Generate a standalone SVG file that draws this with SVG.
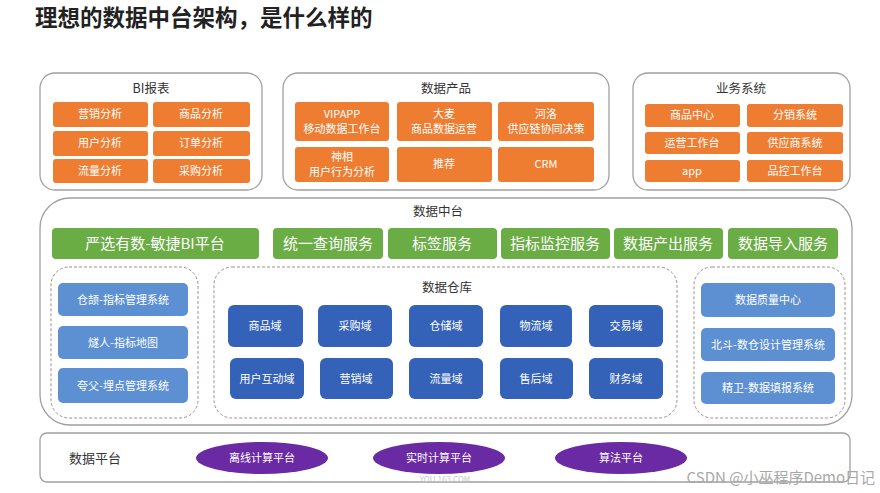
<svg xmlns="http://www.w3.org/2000/svg" width="880" height="493" viewBox="0 0 880 493">
<style>
text{font-family:"Noto Sans CJK SC","Liberation Sans",sans-serif;}
.title{font-size:22.5px;font-weight:bold;fill:#222;}
.panel{fill:#fff;stroke:#a0a0a0;stroke-width:1.3;}
.dash{fill:#fff;stroke:#a09090;stroke-width:1;stroke-dasharray:3 2;}
.ptitle{font-size:12.5px;fill:#333;text-anchor:middle;}
.or{fill:#ee7d31;}
.gr{fill:#6aad45;}
.lb{fill:#5d90d2;}
.db{fill:#3462b8;}
.pu{fill:#6a2aa3;}
.ct{font-size:11px;fill:#fff;text-anchor:middle;}
.gt{font-size:15px;fill:#fff;text-anchor:middle;}
</style>
<rect width="880" height="493" fill="#fff"/>
<text class="title" x="35" y="26">理想的数据中台架构，是什么样的</text>

<g id="bi">
<rect class="panel" x="40" y="73" width="222" height="117" rx="15"/>
<text class="ptitle" x="151" y="93">BI报表</text>
<rect class="or" x="53" y="102" width="95" height="25" rx="3"/><text class="ct" x="100" y="118">营销分析</text>
<rect class="or" x="153" y="102" width="97" height="25" rx="3"/><text class="ct" x="201" y="118">商品分析</text>
<rect class="or" x="53" y="131" width="95" height="25" rx="3"/><text class="ct" x="100" y="147">用户分析</text>
<rect class="or" x="153" y="131" width="97" height="25" rx="3"/><text class="ct" x="201" y="147">订单分析</text>
<rect class="or" x="53" y="159" width="95" height="24" rx="3"/><text class="ct" x="100" y="175">流量分析</text>
<rect class="or" x="153" y="159" width="97" height="24" rx="3"/><text class="ct" x="201" y="175">采购分析</text>
</g>

<g id="product">
<rect class="panel" x="283" y="73" width="326" height="117" rx="15"/>
<text class="ptitle" x="446" y="93">数据产品</text>
<rect class="or" x="295" y="102" width="94" height="39" rx="3"/><text class="ct" x="342" y="118">VIPAPP</text><text class="ct" x="342" y="133">移动数据工作台</text>
<rect class="or" x="397" y="102" width="95" height="39" rx="3"/><text class="ct" x="444" y="118">大麦</text><text class="ct" x="444" y="133">商品数据运营</text>
<rect class="or" x="498" y="102" width="96" height="39" rx="3"/><text class="ct" x="546" y="118">河洛</text><text class="ct" x="546" y="133">供应链协同决策</text>
<rect class="or" x="295" y="147" width="94" height="35" rx="3"/><text class="ct" x="342" y="161">神相</text><text class="ct" x="342" y="176">用户行为分析</text>
<rect class="or" x="397" y="147" width="95" height="35" rx="3"/><text class="ct" x="444" y="168">推荐</text>
<rect class="or" x="498" y="147" width="96" height="35" rx="3"/><text class="ct" x="546" y="168">CRM</text>
</g>

<g id="biz">
<rect class="panel" x="633" y="73" width="217" height="117" rx="15"/>
<text class="ptitle" x="741" y="93">业务系统</text>
<rect class="or" x="645" y="104" width="95" height="23" rx="3"/><text class="ct" x="692" y="119">商品中心</text>
<rect class="or" x="747" y="104" width="96" height="23" rx="3"/><text class="ct" x="795" y="119">分销系统</text>
<rect class="or" x="645" y="132" width="95" height="22" rx="3"/><text class="ct" x="692" y="147">运营工作台</text>
<rect class="or" x="747" y="132" width="96" height="22" rx="3"/><text class="ct" x="795" y="147">供应商系统</text>
<rect class="or" x="645" y="160" width="95" height="22" rx="3"/><text class="ct" x="692" y="175">app</text>
<rect class="or" x="747" y="160" width="96" height="22" rx="3"/><text class="ct" x="795" y="175">品控工作台</text>
</g>

<g id="middle">
<rect class="panel" x="40" y="198" width="812" height="227" rx="30"/>
<text class="ptitle" x="438" y="216">数据中台</text>
<rect class="gr" x="52" y="228" width="207" height="31" rx="4"/><text class="gt" x="155" y="249">严选有数-敏捷BI平台</text>
<rect class="gr" x="273" y="228" width="110" height="31" rx="4"/><text class="gt" x="328" y="249">统一查询服务</text>
<rect class="gr" x="388" y="228" width="109" height="31" rx="4"/><text class="gt" x="442" y="249">标签服务</text>
<rect class="gr" x="501" y="228" width="109" height="31" rx="4"/><text class="gt" x="555" y="249">指标监控服务</text>
<rect class="gr" x="614" y="228" width="109" height="31" rx="4"/><text class="gt" x="668" y="249">数据产出服务</text>
<rect class="gr" x="728" y="228" width="110" height="31" rx="4"/><text class="gt" x="783" y="249">数据导入服务</text>
</g>

<g id="left-tools">
<rect class="dash" x="51" y="267" width="147" height="151" rx="18"/>
<rect class="lb" x="58" y="283" width="130" height="33" rx="5"/><text class="ct" x="123" y="304">仓颉-指标管理系统</text>
<rect class="lb" x="58" y="326" width="130" height="33" rx="5"/><text class="ct" x="123" y="347">燧人-指标地图</text>
<rect class="lb" x="58" y="368" width="130" height="35" rx="5"/><text class="ct" x="123" y="390">夸父-埋点管理系统</text>
</g>

<g id="warehouse">
<rect class="dash" x="214" y="267" width="463" height="151" rx="18"/>
<text class="ptitle" x="447" y="292">数据仓库</text>
<rect class="db" x="228" y="305" width="75" height="42" rx="6"/><text class="ct" x="265" y="330">商品域</text>
<rect class="db" x="318" y="305" width="74" height="42" rx="6"/><text class="ct" x="355" y="330">采购域</text>
<rect class="db" x="409" y="305" width="74" height="42" rx="6"/><text class="ct" x="446" y="330">仓储域</text>
<rect class="db" x="500" y="305" width="72" height="42" rx="6"/><text class="ct" x="536" y="330">物流域</text>
<rect class="db" x="589" y="305" width="74" height="42" rx="6"/><text class="ct" x="626" y="330">交易域</text>
<rect class="db" x="230" y="358" width="74" height="41" rx="6"/><text class="ct" x="267" y="383">用户互动域</text>
<rect class="db" x="320" y="358" width="73" height="41" rx="6"/><text class="ct" x="356" y="383">营销域</text>
<rect class="db" x="409" y="358" width="74" height="41" rx="6"/><text class="ct" x="446" y="383">流量域</text>
<rect class="db" x="500" y="358" width="73" height="41" rx="6"/><text class="ct" x="536" y="383">售后域</text>
<rect class="db" x="589" y="358" width="74" height="41" rx="6"/><text class="ct" x="626" y="383">财务域</text>
</g>

<g id="right-tools">
<rect class="dash" x="694" y="267" width="151" height="151" rx="18"/>
<rect class="lb" x="701" y="283" width="134" height="34" rx="5"/><text class="ct" x="768" y="304">数据质量中心</text>
<rect class="lb" x="701" y="328" width="134" height="33" rx="5"/><text class="ct" x="768" y="349">北斗-数仓设计管理系统</text>
<rect class="lb" x="701" y="372" width="134" height="32" rx="5"/><text class="ct" x="768" y="392">精卫-数据填报系统</text>
</g>

<g id="platform">
<rect class="panel" x="40" y="433" width="810" height="49" rx="7"/>
<text x="95" y="463" style="font-size:13px;fill:#333;text-anchor:middle">数据平台</text>
<ellipse class="pu" cx="262" cy="458" rx="66" ry="16"/><text class="ct" x="262" y="462">离线计算平台</text>
<ellipse class="pu" cx="439" cy="458" rx="66" ry="16"/><text class="ct" x="439" y="462">实时计算平台</text>
<ellipse class="pu" cx="621" cy="458" rx="66" ry="16"/><text class="ct" x="621" y="462">算法平台</text>
</g>

<g id="connectors"></g>

<text x="445" y="482" style="font-size:8px;fill:#c8c8c8;text-anchor:middle">YOU.163.COM</text>
<text x="875" y="483" style="font-size:15px;fill:#a8a8a8;text-anchor:end">CSDN @小巫程序Demo日记</text>
</svg>
